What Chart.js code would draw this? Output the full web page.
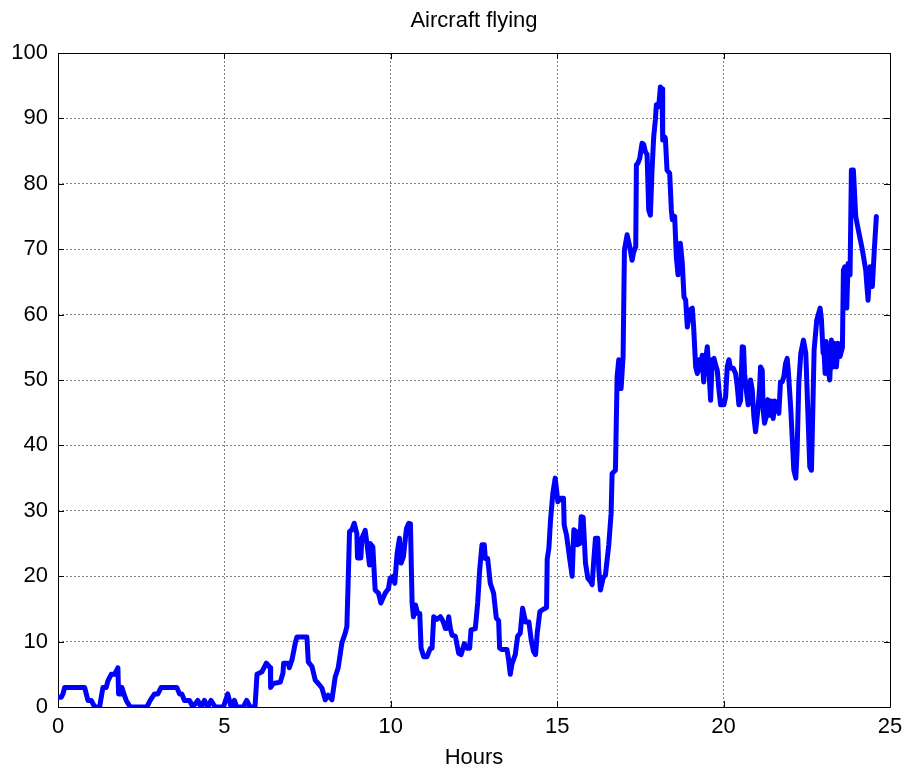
<!DOCTYPE html>
<html>
<head>
<meta charset="utf-8">
<title>Aircraft flying</title>
<script src="https://cdn.jsdelivr.net/npm/chart.js@4/dist/chart.umd.min.js"></script>
<style>
  html, body { margin: 0; padding: 0; background: #ffffff; }
  canvas { display: block; }
</style>
</head>
<body>
<canvas id="chart" width="903" height="770"></canvas>
<script>
// Time of day (hours) for each sample
const hours = [
  0, 0.1, 0.15, 0.2, 0.8, 0.85, 0.9, 1.0, 1.1, 1.25, 1.35, 1.45, 1.5, 1.6, 1.7, 1.8, 1.82, 1.88, 1.92, 1.98,
  2.05, 2.17, 2.67, 2.77, 2.9, 3.0, 3.1, 3.57, 3.65, 3.72, 3.8, 3.95, 4.05, 4.2, 4.3, 4.4, 4.5, 4.6, 4.72, 4.97,
  5.1, 5.2, 5.3, 5.37, 5.57, 5.67, 5.77, 5.92, 5.98, 6.13, 6.26, 6.38, 6.39, 6.47, 6.68, 6.76, 6.78, 6.92, 6.95, 7.03,
  7.13, 7.18, 7.48, 7.52, 7.63, 7.73, 7.82, 7.93, 8.03, 8.12, 8.23, 8.33, 8.42, 8.53, 8.63, 8.68, 8.72, 8.76, 8.83, 8.9,
  8.98, 9.0, 9.1, 9.13, 9.23, 9.3, 9.36, 9.38, 9.46, 9.53, 9.63, 9.7, 9.83, 9.93, 9.98, 10.08, 10.12, 10.19, 10.26, 10.31,
  10.38, 10.47, 10.54, 10.59, 10.64, 10.68, 10.74, 10.81, 10.87, 10.91, 10.99, 11.09, 11.19, 11.24, 11.29, 11.39, 11.49, 11.54, 11.59, 11.64,
  11.69, 11.74, 11.79, 11.84, 11.94, 12.04, 12.11, 12.21, 12.29, 12.37, 12.41, 12.54, 12.61, 12.67, 12.74, 12.81, 12.84, 12.91, 12.99, 13.09,
  13.17, 13.24, 13.27, 13.34, 13.49, 13.54, 13.59, 13.64, 13.74, 13.81, 13.89, 13.96, 14.05, 14.15, 14.22, 14.29, 14.35, 14.4, 14.48, 14.6,
  14.68, 14.7, 14.75, 14.8, 14.87, 14.94, 15.02, 15.1, 15.19, 15.21, 15.28, 15.38, 15.45, 15.5, 15.58, 15.6, 15.68, 15.72, 15.78, 15.85,
  15.92, 16.0, 16.05, 16.1, 16.15, 16.22, 16.25, 16.3, 16.38, 16.45, 16.55, 16.62, 16.65, 16.75, 16.8, 16.85, 16.92, 16.98, 17.02, 17.1,
  17.18, 17.25, 17.3, 17.36, 17.38, 17.42, 17.48, 17.55, 17.6, 17.65, 17.7, 17.75, 17.8, 17.85, 17.9, 17.95, 17.98, 18.05, 18.1, 18.15,
  18.17, 18.22, 18.25, 18.3, 18.38, 18.43, 18.46, 18.53, 18.58, 18.63, 18.7, 18.76, 18.81, 18.86, 18.91, 18.99, 19.06, 19.1, 19.16, 19.21,
  19.26, 19.31, 19.36, 19.4, 19.46, 19.51, 19.56, 19.61, 19.66, 19.71, 19.76, 19.81, 19.86, 19.91, 20.01, 20.06, 20.11, 20.16, 20.21, 20.29,
  20.36, 20.41, 20.46, 20.51, 20.56, 20.6, 20.63, 20.68, 20.74, 20.81, 20.86, 20.91, 20.96, 21.03, 21.08, 21.11, 21.16, 21.19, 21.23, 21.29,
  21.33, 21.39, 21.43, 21.49, 21.53, 21.61, 21.66, 21.71, 21.76, 21.81, 21.86, 21.91, 21.95, 22.02, 22.07, 22.11, 22.17, 22.21, 22.26, 22.32,
  22.4, 22.47, 22.53, 22.59, 22.64, 22.67, 22.72, 22.8, 22.9, 22.94, 22.99, 23.02, 23.05, 23.08, 23.14, 23.19, 23.24, 23.29, 23.34, 23.39,
  23.44, 23.5, 23.57, 23.6, 23.64, 23.7, 23.74, 23.8, 23.84, 23.9, 23.97, 24.07, 24.17, 24.27, 24.34, 24.4, 24.47, 24.53, 24.59
];

// Number of aircraft flying at each sample time
const aircraft = [
  1.5, 1.5, 2, 3, 3, 2, 1, 1, 0, 0, 3, 3, 4, 5, 5, 6, 2, 2, 3, 2,
  1, 0, 0, 1, 2, 2, 3, 3, 2, 2, 1, 1, 0, 1, 0, 1, 0, 1, 0, 0,
  2, 0, 1, 0, 0, 1, 0, 0, 5, 5.4, 6.7, 6, 3, 3.6, 3.8, 5.2, 6.7, 6.7, 6, 7.2,
  9.8, 10.7, 10.7, 6.9, 6.2, 4.1, 3.6, 2.9, 1.1, 1.8, 1.1, 4.6, 6, 9.8, 11.3, 12.3, 19.4, 26.8, 27.1, 28.1,
  26.5, 22.8, 22.8, 25.8, 27, 24.3, 21.7, 25, 24.5, 17.9, 17.4, 15.9, 17.4, 18.1, 19.7, 20, 18.9, 23.5, 25.8, 22,
  23, 27.3, 28.1, 28, 15.9, 13.8, 15.6, 14.3, 14.3, 9, 7.7, 7.7, 9, 9, 13.8, 13.4, 13.8, 13.4, 12.8, 12,
  12, 13.8, 12, 11, 10.8, 8.2, 8, 9.7, 9, 9, 11.8, 12, 15.9, 20.9, 24.8, 24.8, 22.7, 22.7, 18.9, 17.4,
  13.6, 13.2, 9, 8.8, 8.8, 7.2, 5, 6.6, 8, 10.8, 11.3, 15.1, 13, 13, 10.2, 8.5, 8, 11.3, 14.6, 15,
  15.2, 22.6, 24.3, 28.6, 32.7, 35, 31.4, 31.9, 31.9, 27.8, 26.3, 22.5, 20, 27.1, 26.8, 24.8, 25, 29.1, 29, 22,
  19.7, 19.2, 18.7, 22.5, 25.8, 25.8, 20.9, 17.9, 19.7, 20.2, 24.8, 29.6, 35.7, 36.2, 50.5, 53.1, 48.7, 53.6, 69.9, 72.2,
  70.4, 68.3, 69.6, 70.4, 82.9, 83.1, 83.9, 86.2, 86, 84.9, 84.5, 76, 75.2, 82.1, 87.2, 89.8, 92.1, 91.8, 94.8, 94.5,
  86.7, 87.2, 87, 82.1, 81.6, 76, 74.5, 75, 68.8, 66.1, 70.9, 67.8, 62.7, 62.2, 58.1, 60.7, 61, 58.1, 52, 51,
  53.1, 51.5, 53.8, 49.7, 53.1, 55.1, 51.5, 46.9, 53.1, 53.3, 52.3, 51.5, 48.5, 46.2, 46.2, 47.4, 52, 53.1, 51.8, 51.8,
  51, 49, 46.2, 46.9, 55.1, 55, 51, 48.5, 46.2, 50, 48.5, 44.4, 42.1, 45.4, 48.7, 52, 51.5, 45.4, 43.4, 44.6,
  47, 44.6, 46.8, 44.1, 46.8, 46.3, 44.9, 49.7, 49.7, 50.5, 52.5, 53.3, 51, 45.4, 40.3, 36.2, 35, 39.3, 49.5, 54.1,
  56.1, 54.1, 45.4, 36.7, 36.2, 42.9, 54.6, 59.2, 61, 59.2, 54.1, 54.1, 51, 55.9, 51.5, 50, 56.1, 52, 55.6, 52,
  55.6, 53.6, 55, 66.8, 67.3, 61, 67.8, 66.1, 82.1, 82.1, 75, 72.4, 69.9, 66.8, 62.2, 67.3, 64.3, 70, 75
];

// Axis tick values
const xTicks = [0, 5, 10, 15, 20, 25];
const yTicks = [0, 10, 20, 30, 40, 50, 60, 70, 80, 90, 100];

const FONT = '"Liberation Sans", Arial, Helvetica, sans-serif';

// Black frame around the plot with short inward tick marks on every side
const framePlugin = {
  id: 'frame',
  beforeDatasetsDraw(chart) {
    const { ctx, chartArea: a, scales } = chart;
    const len = 6;
    ctx.save();
    ctx.strokeStyle = '#000000';
    ctx.lineWidth = 1;
    ctx.beginPath();
    ctx.rect(Math.round(a.left) + 0.5, Math.round(a.top) + 0.5,
             Math.round(a.right - a.left), Math.round(a.bottom - a.top));
    ctx.stroke();
    ctx.beginPath();
    xTicks.forEach(v => {
      const px = Math.round(scales.x.getPixelForValue(v)) + 0.5;
      ctx.moveTo(px, a.bottom); ctx.lineTo(px, a.bottom - len);
      ctx.moveTo(px, a.top); ctx.lineTo(px, a.top + len);
    });
    yTicks.forEach(v => {
      const py = Math.round(scales.y.getPixelForValue(v)) + 0.5;
      ctx.moveTo(a.left, py); ctx.lineTo(a.left + len, py);
      ctx.moveTo(a.right, py); ctx.lineTo(a.right - len, py);
    });
    ctx.stroke();
    ctx.restore();
  }
};

new Chart(document.getElementById('chart'), {
  type: 'line',
  data: {
    datasets: [{
      label: 'Aircraft flying',
      data: hours.map((h, i) => ({ x: h, y: aircraft[i] })),
      borderColor: '#0000ff',
      borderWidth: 5,
      pointRadius: 0,
      tension: 0,
      fill: false,
      borderJoinStyle: 'round',
      borderCapStyle: 'round'
    }]
  },
  options: {
    responsive: false,
    devicePixelRatio: 1,
    animation: false,
    layout: { padding: { left: 0, right: 13, top: 0, bottom: 0 } },
    plugins: {
      legend: { display: false },
      tooltip: { enabled: false },
      title: {
        display: true,
        text: 'Aircraft flying',
        color: '#000000',
        fullSize: false,
        font: { family: FONT, size: 22, weight: 'normal', lineHeight: 1.2 },
        padding: { top: 8, bottom: 18.6 }
      }
    },
    scales: {
      x: {
        type: 'linear',
        min: 0,
        max: 25,
        afterBuildTicks(scale) { scale.ticks = xTicks.map(v => ({ value: v })); },
        afterFit(scale) {
          scale.height = 63;
          scale.paddingLeft = 0;
          scale.paddingRight = 0;
        },
        grid: {
          color: '#808080',
          lineWidth: 1,
          drawTicks: false
        },
        border: { display: false, dash: [2, 2] },
        ticks: {
          color: '#000000',
          padding: 7,
          font: { family: FONT, size: 22 },
          maxRotation: 0
        },
        title: {
          display: true,
          text: 'Hours',
          color: '#000000',
          font: { family: FONT, size: 22, lineHeight: 1.1 },
          padding: { top: 0, bottom: 0 }
        }
      },
      y: {
        type: 'linear',
        min: 0,
        max: 100,
        afterBuildTicks(scale) { scale.ticks = yTicks.map(v => ({ value: v })); },
        afterFit(scale) {
          scale.width = 58;
          scale.paddingTop = 0;
          scale.paddingBottom = 0;
        },
        grid: {
          color: '#808080',
          lineWidth: 1,
          drawTicks: false
        },
        border: { display: false, dash: [2, 2] },
        ticks: {
          color: '#000000',
          padding: 10,
          font: { family: FONT, size: 22 }
        }
      }
    }
  },
  plugins: [framePlugin]
});
</script>
</body>
</html>
